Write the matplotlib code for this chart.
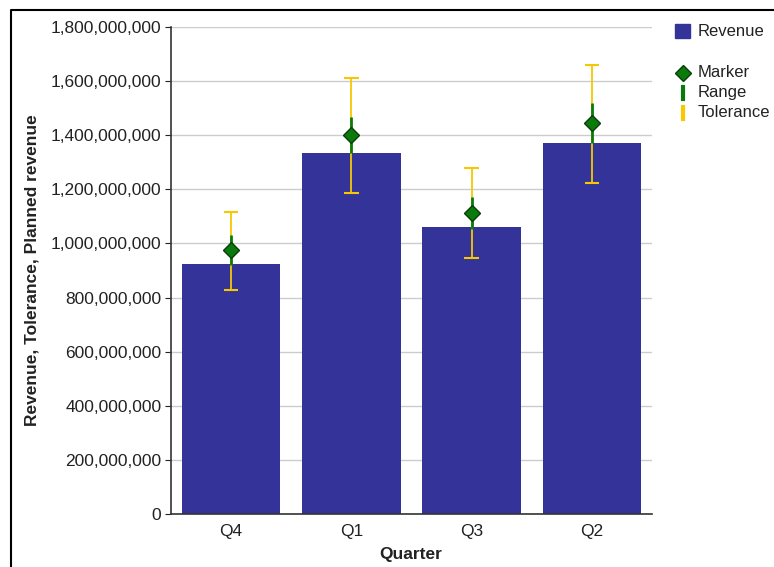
import matplotlib
matplotlib.use("Agg")
import matplotlib.pyplot as plt
from matplotlib.lines import Line2D
from matplotlib.patches import Rectangle
from matplotlib.ticker import FuncFormatter, MultipleLocator

plt.rcParams['font.family'] = ['Liberation Sans', 'DejaVu Sans']

categories = ['Q4', 'Q1', 'Q3', 'Q2']
revenue = [0.924e9, 1.334e9, 1.061e9, 1.371e9]
marker_vals = [0.976e9, 1.401e9, 1.112e9, 1.445e9]
range_low = [0.921e9, 1.335e9, 1.053e9, 1.371e9]
range_high = [1.031e9, 1.467e9, 1.171e9, 1.519e9]
tol_low = [0.828e9, 1.186e9, 0.946e9, 1.223e9]
tol_high = [1.116e9, 1.611e9, 1.279e9, 1.659e9]
legend_labels = ['Revenue', 'Marker', 'Range', 'Tolerance']

BLUE = '#333399'
GREEN = '#0a7a0a'
YELLOW = '#f5c800'
TXT = '#222222'

W, H = 774, 567
fig = plt.figure(figsize=(W/100, H/100), dpi=100)
ax = fig.add_axes([171/W, 1-514/H, (652-171)/W, (514-27)/H])

x = list(range(len(categories)))
ax.bar(x, revenue, width=0.82, color=BLUE, zorder=2)

for i in x:
    ax.vlines(i, tol_low[i], tol_high[i], color=YELLOW, lw=1.3, zorder=3)
    ax.hlines([tol_low[i], tol_high[i]], i-0.06, i+0.06, color=YELLOW, lw=1.5, zorder=3)
    ax.vlines(i, range_low[i], range_high[i], color=GREEN, lw=2, zorder=4)
ax.plot(x, marker_vals, linestyle='none', marker='D', markersize=8,
        markerfacecolor=GREEN, markeredgecolor='#0b3d0b', markeredgewidth=1, zorder=5)

ax.set_xlim(-0.5, 3.5)
ax.set_ylim(0, 1.8e9)
ax.set_xticks(x)
ax.set_xticklabels(categories)
ax.yaxis.set_major_locator(MultipleLocator(2e8))
ax.yaxis.set_major_formatter(FuncFormatter(lambda v, p: f"{int(round(v)):,}"))
ax.tick_params(axis='x', length=0, labelsize=12.5, pad=7, colors=TXT)
ax.tick_params(axis='y', length=4, labelsize=12.5, colors=TXT, pad=3)
ax.grid(axis='y', color='#cccccc', lw=1, zorder=0)
ax.set_axisbelow(True)
for s in ['top', 'right']:
    ax.spines[s].set_visible(False)
for s in ['left', 'bottom']:
    ax.spines[s].set_color('#333333')
    ax.spines[s].set_linewidth(1.2)

# axis titles
fig.text(411/W, 1-554/H, 'Quarter', fontsize=12.5, fontweight='bold',
         ha='center', va='center', color=TXT)
fig.text(32/W, 1-270/H, 'Revenue, Tolerance, Planned revenue', fontsize=12.5,
         fontweight='bold', rotation=90, ha='center', va='center', color=TXT)

# legend (drawn in figure pixels)
def fx(px):
    return px / W

def fy(py):
    return 1 - py / H

LFS = 12
fig.add_artist(Rectangle((fx(675), fy(38)), 15/W, 14/H, transform=fig.transFigure,
                         facecolor=BLUE, edgecolor=BLUE))
fig.text(fx(698), fy(31), legend_labels[0], fontsize=LFS, ha='left', va='center', color=TXT)
fig.add_artist(Line2D([fx(683)], [fy(73)], transform=fig.transFigure, linestyle='none',
                      marker='D', markersize=8, markerfacecolor=GREEN,
                      markeredgecolor='#0b3d0b'))
fig.text(fx(698), fy(73), legend_labels[1], fontsize=LFS, ha='left', va='center', color=TXT)
fig.add_artist(Line2D([fx(683), fx(683)], [fy(87), fy(99)], transform=fig.transFigure,
                      color=GREEN, lw=3))
fig.text(fx(698), fy(93), legend_labels[2], fontsize=LFS, ha='left', va='center', color=TXT)
fig.add_artist(Line2D([fx(683), fx(683)], [fy(107), fy(119)], transform=fig.transFigure,
                      color=YELLOW, lw=3))
fig.text(fx(698), fy(113), legend_labels[3], fontsize=LFS, ha='left', va='center', color=TXT)

# figure border (left and top)
fig.add_artist(Line2D([fx(11), fx(11), 1.0], [0.0, fy(10), fy(10)],
                      transform=fig.transFigure, color='black', lw=1.5))

fig.savefig('out.png', dpi=100)
